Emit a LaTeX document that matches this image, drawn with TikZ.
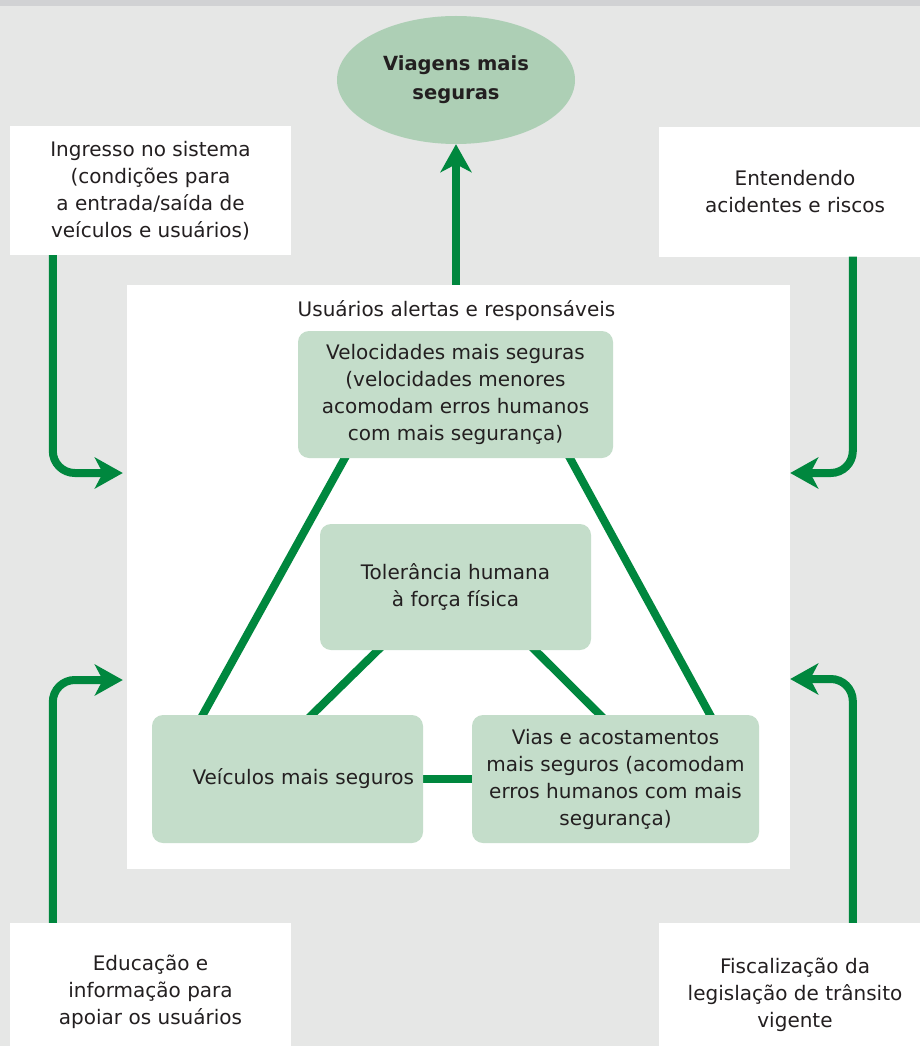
\documentclass[tikz,border=0pt]{standalone}
\usepackage{fontspec}
\setmainfont{DejaVu Sans}
\usetikzlibrary{calc,arrows.meta,shapes.geometric}
\definecolor{bgc}{HTML}{E6E7E6}
\definecolor{stripc}{HTML}{D1D2D4}
\definecolor{ellc}{HTML}{ADCFB5}
\definecolor{boxc}{HTML}{C4DDCA}
\definecolor{grn}{HTML}{00873E}
\definecolor{txtc}{HTML}{231F20}
\pgfdeclarelayer{bottom}
\pgfdeclarelayer{mid}
\pgfsetlayers{bottom,mid,main}
\tikzset{
  txt/.style={text=txtc, align=center, font=\fontsize{20}{27}\selectfont},
  gbox/.style={txt, fill=boxc, rounded corners=11pt, inner sep=0pt},
  wbox/.style={txt, fill=white, inner sep=0pt},
  arr/.style={draw=grn, line width=8pt, -{Stealth[length=28pt,width=31pt,inset=8pt]}},
  link/.style={draw=grn, line width=8pt, shorten <=-8pt, shorten >=-8pt},
}
\begin{document}
\begin{tikzpicture}[x=1pt,y=-1pt]
\clip (0,0) rectangle (920,1046);
\begin{pgfonlayer}{bottom}
\fill[bgc] (0,0) rectangle (920,1046);
\fill[stripc] (0,0) rectangle (920,6);
\node[wbox, minimum width=663pt, minimum height=584pt] (main) at (458.5,577) {};
\end{pgfonlayer}
% goal ellipse
\node[ellipse, fill=ellc, minimum width=238pt, minimum height=128pt, inner sep=0pt,
      text=txtc, align=center, font=\bfseries\fontsize{19.5}{29}\selectfont] (goal) at (456,80)
      {Viagens mais\\ seguras};
% side boxes
\node[wbox, minimum width=281pt, minimum height=129pt] (ing) at (150.5,190.5)
  {Ingresso no sistema\\ (condições para\\ a entrada/saída de\\ veículos e usuários)};
\node[wbox, minimum width=272pt, minimum height=129pt] (ent) at (795,192)
  {Entendendo\\ acidentes e riscos};
\node[wbox, minimum width=281pt, minimum height=137pt] (edu) at (150.5,991.5)
  {Educação e\\ informação para\\ apoiar os usuários};
\node[wbox, minimum width=272pt, minimum height=144pt] (fis) at (795,995)
  {Fiscalização da\\ legislação de trânsito\\ vigente};
% inner content
\node[txt, anchor=center] (usr) at ($(main.north)+(-2,26)$) {Usuários alertas e responsáveis};
\node[gbox, minimum width=315pt, minimum height=127pt] (vel) at (455.5,394.5)
  {Velocidades mais seguras\\ (velocidades menores\\ acomodam erros humanos\\ com mais segurança)};
\node[gbox, minimum width=271pt, minimum height=126pt] (tol) at (455.5,587)
  {Tolerância humana\\ à força física};
\node[gbox, minimum width=271pt, minimum height=128pt, text width=253pt, align=right] (vei) at (287.5,779)
  {Veículos mais seguros};
\node[gbox, minimum width=287pt, minimum height=128pt] (vias) at (615.5,779)
  {Vias e acostamentos\\ mais seguros (acomodam\\ erros humanos com mais\\ segurança)};
% links
\begin{pgfonlayer}{mid}
\draw[link] ($(vel.south west)!0.149!(vel.south east)$) -- ($(vei.north west)!0.188!(vei.north east)$);
\draw[link] ($(vel.south west)!0.863!(vel.south east)$) -- ($(vias.north west)!0.829!(vias.north east)$);
\draw[link] ($(tol.south west)!0.214!(tol.south east)$) -- ($(vei.north west)!0.59!(vei.north east)$);
\draw[link] ($(tol.south west)!0.793!(tol.south east)$) -- ($(vias.north west)!0.446!(vias.north east)$);
\draw[link] (vei.east) -- (vei.east -| vias.west);
\end{pgfonlayer}
% arrows
\draw[arr] (main.north -| goal.south) -- (goal.south);
\draw[arr, rounded corners=22pt] ($(ing.south west)+(43,0)$) |- ($(main.west)+(-4,-104)$);
\draw[arr, rounded corners=22pt] ($(edu.north west)+(43,0)$) |- ($(main.west)+(-4,103)$);
\draw[arr, rounded corners=22pt] ($(ent.south west)+(194,0)$) |- ($(main.east)+(0,-104)$);
\draw[arr, rounded corners=22pt] ($(fis.north west)+(194,0)$) |- ($(main.east)+(0,102)$);
\end{tikzpicture}
\end{document}
